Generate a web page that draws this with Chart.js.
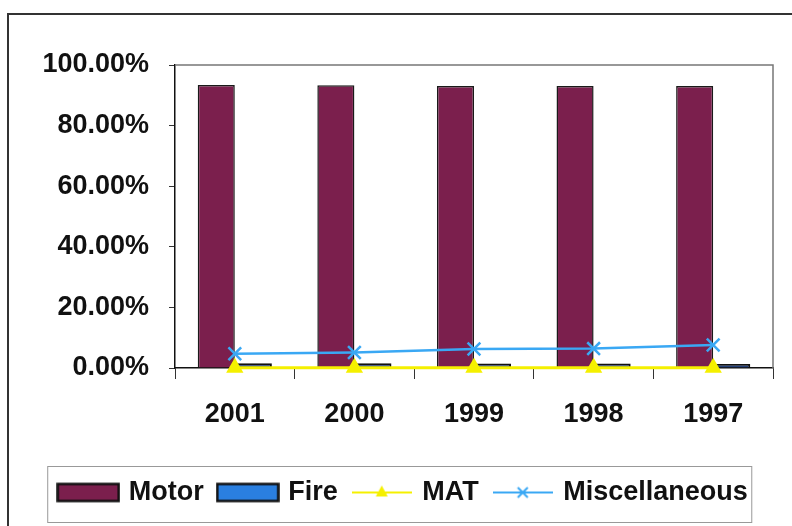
<!DOCTYPE html>
<html>
<head>
<meta charset="utf-8">
<script src="https://cdn.jsdelivr.net/npm/chart.js@4"></script>
<style>
    html, body { margin: 0; padding: 0; background: #fff; }
    #wrap { width: 792px; height: 526px; position: relative; }
</style>
</head>
<body>
<div id="wrap"><canvas id="shareChart" width="792" height="526"></canvas></div>
<script>
// chart data
const years = ['2001', '2000', '1999', '1998', '1997'];
const motor = [0.934, 0.933, 0.931, 0.931, 0.931];
const fire = [0.016, 0.016, 0.015, 0.015, 0.013];
const mat = [0.001, 0.001, 0.001, 0.001, 0.001];
const misc = [0.047, 0.051, 0.063, 0.064, 0.076];
const yTicks = [0, 0.2, 0.4, 0.6, 0.8, 1.0];

const FONT = { family: 'Arial, "Liberation Sans", sans-serif', size: 27, weight: 'bold' };

// small canvases used as legend symbols
function rectSymbol(fill) {
    const c = document.createElement('canvas');
    c.width = 64; c.height = 22;
    const g = c.getContext('2d');
    g.fillStyle = fill;
    g.fillRect(1.5, 2.5, 61, 17);
    g.strokeStyle = '#111';
    g.lineWidth = 2.5;
    g.strokeRect(1.5, 2.5, 61, 17);
    return c;
}

function lineSymbol(color, marker) {
    const c = document.createElement('canvas');
    c.width = 60; c.height = 22;
    const g = c.getContext('2d');
    g.strokeStyle = color;
    g.lineWidth = 2;
    g.beginPath();
    g.moveTo(0, 11); g.lineTo(60, 11);
    g.stroke();
    if (marker === 'tri') {
        g.fillStyle = color;
        g.beginPath();
        g.moveTo(30, 4); g.lineTo(36, 15); g.lineTo(24, 15);
        g.closePath();
        g.fill();
    } else {
        g.lineWidth = 2;
        g.beginPath();
        g.moveTo(25, 6); g.lineTo(35, 16);
        g.moveTo(35, 6); g.lineTo(25, 16);
        g.stroke();
    }
    return c;
}

const legendSymbols = [
    rectSymbol('#7b1f4d'),
    rectSymbol('#2a7fe0'),
    lineSymbol('#f5f000', 'tri'),
    lineSymbol('#3aa8f4', 'cross')
];

// frame, plot border and legend box
const framePlugin = {
    id: 'frame',
    beforeDraw(chart) {
        const ctx = chart.ctx;
        ctx.save();
        ctx.fillStyle = '#fff';
        ctx.fillRect(0, 0, chart.width, chart.height);
        ctx.strokeStyle = '#333';
        ctx.lineWidth = 2;
        ctx.strokeRect(8, 14, 900, 600);
        ctx.restore();
    },
    afterDraw(chart) {
        const ctx = chart.ctx;
        const a = chart.chartArea;
        ctx.save();
        ctx.strokeStyle = '#777';
        ctx.lineWidth = 1.5;
        ctx.beginPath();
        ctx.moveTo(a.left, a.top);
        ctx.lineTo(a.right, a.top);
        ctx.lineTo(a.right, a.bottom);
        ctx.stroke();

        const boxes = chart.legend.legendHitBoxes;
        if (boxes && boxes.length) {
            const first = boxes[0];
            const last = boxes[boxes.length - 1];
            ctx.strokeStyle = '#999';
            ctx.lineWidth = 1;
            ctx.strokeRect(first.left - 13.5, first.top - 12.5, last.left + last.width - first.left + 17.5, 56);
        }
        ctx.restore();
    }
};

new Chart(document.getElementById('shareChart'), {
    type: 'bar',
    data: {
        labels: years,
        datasets: [
            {
                label: 'Motor',
                data: motor,
                backgroundColor: '#7b1f4d',
                borderColor: '#1a1a1a',
                borderWidth: 1.5,
                categoryPercentage: 0.62,
                barPercentage: 1,
                order: 3
            },
            {
                label: 'Fire',
                data: fire,
                backgroundColor: '#24407a',
                borderColor: '#111',
                borderWidth: 2,
                categoryPercentage: 0.62,
                barPercentage: 1,
                order: 3
            },
            {
                type: 'line',
                label: 'MAT',
                data: mat,
                borderColor: '#f5f000',
                backgroundColor: '#f5f000',
                borderWidth: 3,
                pointStyle: 'triangle',
                pointRadius: 10,
                pointBorderWidth: 0,
                clip: false,
                order: 1
            },
            {
                type: 'line',
                label: 'Miscellaneous',
                data: misc,
                borderColor: '#3aa8f4',
                backgroundColor: '#3aa8f4',
                borderWidth: 2.5,
                pointStyle: 'crossRot',
                pointRadius: 9,
                pointBorderWidth: 2.5,
                clip: false,
                order: 0
            }
        ]
    },
    options: {
        responsive: false,
        animation: false,
        layout: { padding: { left: 36, right: 19, top: 65, bottom: 10 } },
        plugins: {
            tooltip: { enabled: false },
            legend: {
                position: 'bottom',
                labels: {
                    usePointStyle: true,
                    pointStyleWidth: 54,
                    padding: 17,
                    color: '#111',
                    font: FONT,
                    generateLabels(chart) {
                        return chart.data.datasets.map((ds, i) => ({
                            text: ds.label,
                            pointStyle: legendSymbols[i],
                            datasetIndex: i,
                            fontColor: '#111',
                            lineWidth: 0,
                            hidden: false
                        }));
                    }
                }
            }
        },
        scales: {
            x: {
                grid: { display: true, drawOnChartArea: false, tickLength: 11, color: '#333', lineWidth: 1 },
                border: { color: '#111', width: 1.5 },
                ticks: { color: '#111', font: FONT, padding: 19 },
                afterFit(scale) { scale.height = 94; }
            },
            y: {
                min: 0,
                max: 1,
                afterBuildTicks(scale) { scale.ticks = yTicks.map(v => ({ value: v })); },
                grid: { display: true, drawOnChartArea: false, tickLength: 6, color: '#333' },
                border: { color: '#111', width: 1.5 },
                ticks: {
                    color: '#111',
                    font: FONT,
                    padding: 20,
                    callback: v => (v * 100).toFixed(2) + '%'
                },
                afterFit(scale) { scale.width = 139; }
            }
        }
    },
    plugins: [framePlugin]
});
</script>
</body>
</html>
